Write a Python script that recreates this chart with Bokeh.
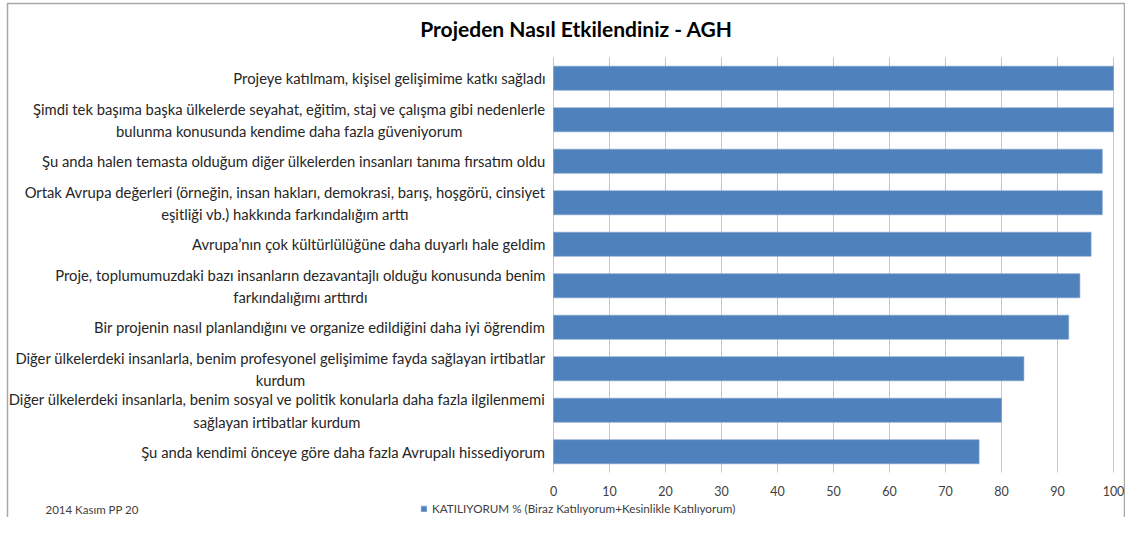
from bokeh.plotting import figure
from bokeh.models import Range1d, Legend, LegendItem, ColumnDataSource
from bokeh.core.properties import value
from bokeh.embed import file_html
from bokeh.resources import INLINE

title = "Projeden Nasıl Etkilendiniz - AGH"
categories = [
    "Projeye katılmam, kişisel gelişimime katkı sağladı",
    "Şimdi tek başıma başka ülkelerde seyahat, eğitim, staj ve çalışma gibi nedenlerle\nbulunma konusunda kendime daha fazla güveniyorum",
    "Şu anda halen temasta olduğum diğer ülkelerden insanları tanıma fırsatım oldu",
    "Ortak Avrupa değerleri (örneğin, insan hakları, demokrasi, barış, hoşgörü, cinsiyet\neşitliği vb.) hakkında farkındalığım arttı",
    "Avrupa’nın çok kültürlülüğüne daha duyarlı hale geldim",
    "Proje, toplumumuzdaki bazı insanların dezavantajlı olduğu konusunda benim\nfarkındalığımı arttırdı",
    "Bir projenin nasıl planlandığını ve organize edildiğini daha iyi öğrendim",
    "Diğer ülkelerdeki insanlarla, benim profesyonel gelişimime fayda sağlayan irtibatlar\nkurdum",
    "Diğer ülkelerdeki insanlarla, benim sosyal ve politik konularla daha fazla ilgilenmemi\nsağlayan irtibatlar kurdum",
    "Şu anda kendimi önceye göre daha fazla Avrupalı hissediyorum",
]
values = [100, 100, 98, 98, 96, 94, 92, 84, 80, 76]
x_ticks = [0, 10, 20, 30, 40, 50, 60, 70, 80, 90, 100]
x_tick_labels = ["0", "10", "20", "30", "40", "50", "60", "70", "80", "90", "100"]
series_name = "KATILIYORUM % (Biraz Katılıyorum+Kesinlikle Katılıyorum)"
footer = "2014 Kasım PP 20"

FONT = "Lato"
BAR = "#4F81BD"
TXT = "#262626"

# ---- layout (pixels inside the figure) ----
W, H = 1125, 517
ZERO_PX, HUNDRED_PX = 553, 1113     # where 0 and 100 fall horizontally
TOP_PX, BOTTOM_PX = 57, 472         # top / bottom of the bar area

n = len(categories)
ppu = (HUNDRED_PX - ZERO_PX) / 100.0
X_START = -ZERO_PX / ppu
X_END = 100 + (W - HUNDRED_PX) / ppu
band = (BOTTOM_PX - TOP_PX) / n
Y_END = (n - 0.5) + TOP_PX / band
Y_START = -0.5 - (H - BOTTOM_PX) / band


def px_x(px):
    return X_START + px / ppu


def px_y(py):
    return Y_END - py / band


ypos = [n - 1 - i for i in range(n)]  # first category at top
src = ColumnDataSource(dict(y=ypos, v=values, cat=categories))

p = figure(width=W, height=H, output_backend="svg", toolbar_location=None,
           x_range=Range1d(X_START, X_END), y_range=Range1d(Y_START, Y_END),
           min_border=0)
p.outline_line_color = None
p.background_fill_color = "white"
p.border_fill_color = "white"
p.xaxis.visible = False
p.yaxis.visible = False
p.grid.visible = False

# chart frame (left, top, right edges)
p.line(x=[px_x(7), px_x(7), px_x(W - 1), px_x(W - 1)],
       y=[Y_START, px_y(3), px_y(3), Y_START],
       line_color="#a8a8a8", line_width=1.5)

# vertical gridlines at the value ticks
p.segment(x0=x_ticks, x1=x_ticks, y0=[-0.5] * len(x_ticks), y1=[n - 0.5] * len(x_ticks),
          line_color="#c6c6c6", line_width=1)

r = p.hbar(y="y", right="v", left=0, height=0.58, source=src,
           fill_color=BAR, line_color="#7fa3cf", line_width=0.6)

# value tick labels under the bar area
p.text(x=x_ticks, y=[-0.5] * len(x_ticks), text=x_tick_labels, y_offset=18,
       text_align="center", text_baseline="middle",
       text_font=value(FONT), text_font_size="12.5px", text_color="#404040")

# category labels: block right-aligned at the axis, lines centred
p.text(x=0, y="y", text="cat", source=src, x_offset=-8,
       anchor="center_right", text_align="center",
       text_font=value(FONT), text_font_size="14.8px", text_color=TXT,
       text_line_height=1.25)

# title
p.text(x=[px_x(576)], y=[px_y(28)], text=[title],
       text_align="center", text_baseline="middle",
       text_font=value(FONT), text_font_style="bold", text_font_size="21px",
       text_color="black")

# footer
p.text(x=[px_x(45)], y=[px_y(509)], text=[footer],
       text_align="left", text_baseline="middle",
       text_font=value(FONT), text_font_size="11.5px", text_color="#404040")

legend = Legend(items=[LegendItem(label=series_name, renderers=[r])],
                location=(420, 2), orientation="horizontal",
                glyph_width=7, glyph_height=7, label_text_font=FONT,
                label_text_font_size="11.7px", label_text_color="#404040",
                border_line_color=None, background_fill_alpha=0,
                padding=0, margin=0, label_standoff=5)
p.add_layout(legend)

open("out.html", "w").write(file_html(p, INLINE))
